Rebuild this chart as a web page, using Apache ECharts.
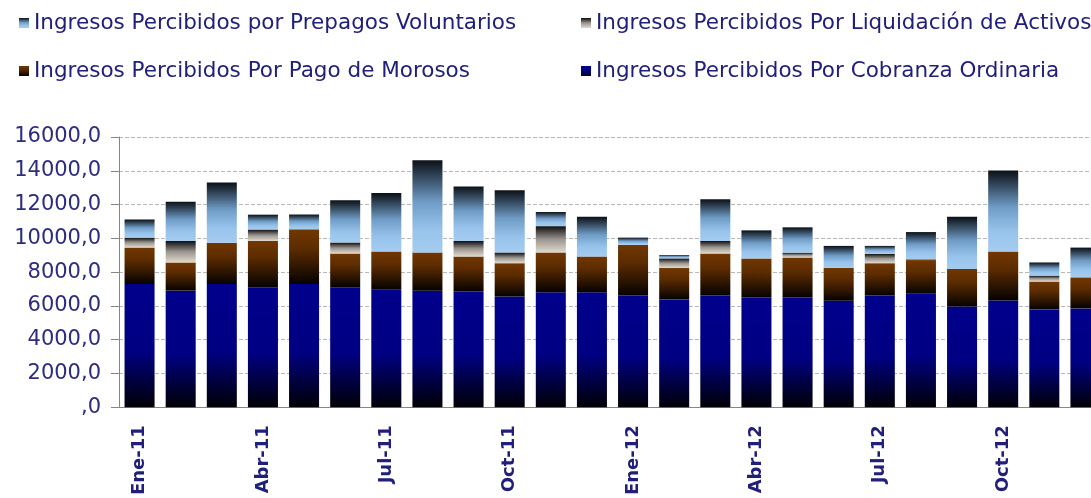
<!DOCTYPE html>
<html>
<head>
<meta charset="utf-8">
<script src="https://cdn.jsdelivr.net/npm/echarts@6/dist/echarts.min.js"></script>
<style>
	html, body { margin: 0; padding: 0; background: #fff; overflow: hidden; }
	#chart { width: 1120px; height: 498px; }
</style>
</head>
<body>
<div id="chart"></div>
<script>
// meses (ene-11 .. dic-12)
const months = [
	'Ene-11', 'Feb-11', 'Mar-11', 'Abr-11', 'May-11', 'Jun-11',
	'Jul-11', 'Ago-11', 'Sep-11', 'Oct-11', 'Nov-11', 'Dic-11',
	'Ene-12', 'Feb-12', 'Mar-12', 'Abr-12', 'May-12', 'Jun-12',
	'Jul-12', 'Ago-12', 'Sep-12', 'Oct-12', 'Nov-12', 'Dic-12'
];

const cobranza = [7300, 6900, 7300, 7100, 7300, 7100, 6960, 6900, 6850, 6560, 6810, 6810,
	6610, 6380, 6610, 6490, 6490, 6300, 6610, 6710, 5960, 6320, 5790, 5850];
const morosos = [2150, 1670, 2440, 2740, 3230, 2000, 2260, 2260, 2070, 1970, 2350, 2110,
	3000, 1860, 2490, 2320, 2370, 1960, 1920, 2000, 2220, 2900, 1650, 1800];
const liquidacion = [590, 1270, 0, 680, 0, 650, 0, 0, 920, 630, 1560, 0,
	0, 570, 740, 0, 290, 0, 550, 60, 0, 0, 350, 60];
const prepagos = [1075, 2330, 3560, 880, 880, 2500, 3460, 5470, 3230, 3680, 840, 2350,
	430, 195, 2480, 1660, 1500, 1290, 470, 1600, 3090, 4790, 780, 1740];

const names = [
	'Ingresos Percibidos por Prepagos Voluntarios',
	'Ingresos Percibidos Por Liquidación de Activos',
	'Ingresos Percibidos Por Pago de Morosos',
	'Ingresos Percibidos Por Cobranza Ordinaria'
];

const textColor = '#20207a';
const font = 'DejaVu Sans';

function grad(stops) {
	return {
		type: 'linear', x: 0, y: 0, x2: 0, y2: 1,
		colorStops: stops.map(([offset, color]) => ({ offset, color }))
	};
}

const colors = {
	cobranza: grad([[0, '#00008c'], [0.55, '#000082'], [1, '#000006']]),
	morosos: grad([[0, '#723700'], [0.35, '#5c2c00'], [1, '#050200']]),
	liquidacion: grad([[0, '#0e0e0e'], [0.5, '#9a958f'], [1, '#e2dacd']]),
	prepagos: grad([[0, '#0b1016'], [0.45, '#6f9cc6'], [0.75, '#97c3eb'], [1, '#a5ccf0']])
};

function legendAt(name, left, top) {
	return {
		data: [name],
		left: left,
		top: top,
		icon: 'rect',
		itemWidth: 10,
		itemHeight: 10,
		selectedMode: false,
		textStyle: { fontFamily: font, fontSize: 21.5, color: textColor }
	};
}

const chart = echarts.init(document.getElementById('chart'));

const barStyle = (key) => ({
	type: 'bar',
	stack: 'total',
	barCategoryGap: '27%',
	itemStyle: { color: colors[key] },
	emphasis: { disabled: true }
});

chart.setOption({
	animation: false,
	legend: [
		legendAt(names[0], 14, 7),
		legendAt(names[1], 576, 7),
		legendAt(names[2], 14, 55),
		legendAt(names[3], 576, 55)
	],
	grid: { left: 119, right: 14, top: 137, bottom: 89 },
	xAxis: {
		type: 'category',
		data: months,
		axisLine: { lineStyle: { color: '#868686', width: 1 } },
		axisTick: { interval: 2, length: 8, lineStyle: { color: '#868686' } },
		axisLabel: {
			interval: 2,
			rotate: 90,
			margin: 18,
			fontFamily: font,
			fontSize: 18,
			fontWeight: 'bold',
			color: textColor
		}
	},
	yAxis: {
		type: 'value',
		min: 0,
		max: 16000,
		interval: 2000,
		axisLine: { show: true, lineStyle: { color: '#868686', width: 1 } },
		axisTick: { show: true, length: 8, lineStyle: { color: '#868686' } },
		splitLine: { lineStyle: { color: '#b8b8b8', type: [4, 2] } },
		axisLabel: {
			margin: 18,
			fontFamily: font,
			fontSize: 21,
			color: '#2c2c80',
			formatter: (v) => (v === 0 ? ',0' : v + ',0')
		}
	},
	series: [
		{ name: names[3], data: cobranza, ...barStyle('cobranza') },
		{ name: names[2], data: morosos, ...barStyle('morosos') },
		{ name: names[1], data: liquidacion, ...barStyle('liquidacion') },
		{ name: names[0], data: prepagos, ...barStyle('prepagos') }
	]
});
</script>
</body>
</html>
